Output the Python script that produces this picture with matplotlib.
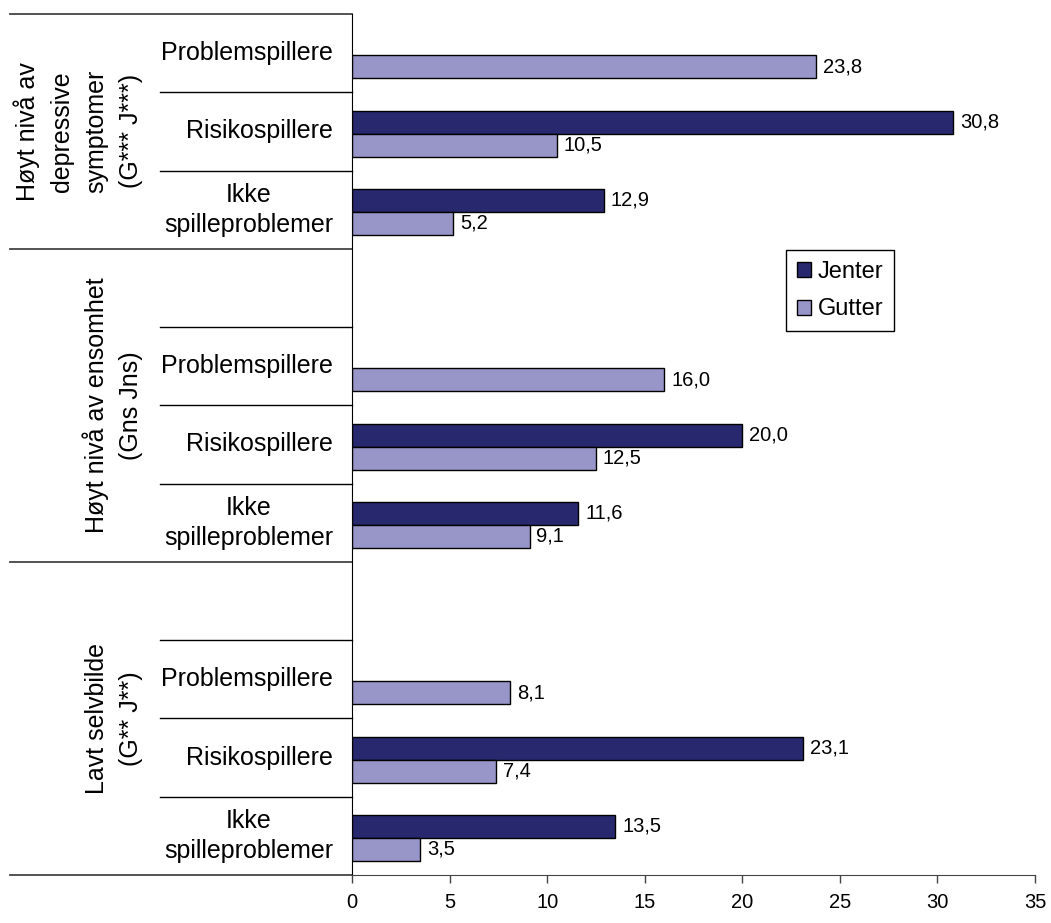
#!/usr/bin/env python3
import matplotlib
matplotlib.use('Agg')
import matplotlib.pyplot as plt
import numpy as np

plt.rcParams['font.family'] = ['Liberation Sans', 'DejaVu Sans']

# slots from top to bottom (None = blank row)
sub_labels = ['Problemspillere', 'Risikospillere', 'Ikke\nspilleproblemer',
              None, 'Problemspillere', 'Risikospillere', 'Ikke\nspilleproblemer',
              None, 'Problemspillere', 'Risikospillere', 'Ikke\nspilleproblemer']
jenter = [None, 30.8, 12.9,
          None, None, 20.0, 11.6,
          None, None, 23.1, 13.5]
gutter = [23.8, 10.5, 5.2,
          None, 16.0, 12.5, 9.1,
          None, 8.1, 7.4, 3.5]
group_labels = ['Høyt nivå av\ndepressive\nsymptomer\n(G*** J***)',
                'Høyt nivå av ensomhet\n(Gns Jns)',
                'Lavt selvbilde\n(G** J**)']
group_bounds = [-0.5, 2.5, 6.5, 10.5]

c_jenter = '#28286E'
c_gutter = '#9896C8'


def fmt(v):
    return f'{v:.1f}'.replace('.', ',')


def main():
    fig = plt.figure(figsize=(10.51, 9.23), dpi=100)
    ax = fig.add_axes([352 / 1051, 1 - 875 / 923, 683 / 1051, 861 / 923])

    h = 0.294
    pos = np.arange(len(sub_labels))
    jy = [p - 0.12 for p, v in zip(pos, jenter) if v is not None]
    jv = [v for v in jenter if v is not None]
    gy = [p + 0.174 for p, v in zip(pos, gutter) if v is not None]
    gv = [v for v in gutter if v is not None]

    ax.barh(jy, jv, height=h, color=c_jenter, edgecolor='black', lw=1.0, label='Jenter')
    ax.barh(gy, gv, height=h, color=c_gutter, edgecolor='black', lw=1.0, label='Gutter')

    for y, v in zip(jy, jv):
        ax.text(v + 0.35, y, fmt(v), va='center', ha='left', fontsize=14.5)
    for y, v in zip(gy, gv):
        ax.text(v + 0.35, y, fmt(v), va='center', ha='left', fontsize=14.5)

    ax.set_xlim(0, 35)
    ax.set_ylim(10.5, -0.5)
    ax.set_xticks(range(0, 36, 5))
    ax.tick_params(axis='x', labelsize=14.5, length=6, width=1, pad=7, color='#444444')
    ax.set_yticks([])
    ax.spines['top'].set_visible(False)
    ax.spines['right'].set_visible(False)
    ax.spines['left'].set_color('black')
    ax.spines['bottom'].set_color('#444444')

    tr = ax.get_yaxis_transform()
    x_outer = (10 - 352) / 683
    x_inner = (160 - 352) / 683
    x_text = (333 - 352) / 683
    x_group = (143 - 352) / 683

    # category labels and separators
    for i, lab in enumerate(sub_labels):
        if lab is not None:
            ax.text(x_text, i, lab, transform=tr, ha='right', va='center',
                    multialignment='center', fontsize=18, linespacing=1.3)
    for g in range(3):
        top, bot = group_bounds[g], group_bounds[g + 1]
        ax.text(x_group, (top + bot) / 2, group_labels[g], transform=tr,
                rotation=90, ha='right', va='center', multialignment='center',
                fontsize=18, linespacing=1.55)
        for b in np.arange(top + 1, bot, 1.0):
            ax.plot([x_inner, 0], [b, b], transform=tr, color='black',
                    lw=1.0, clip_on=False)
    for b in group_bounds:
        ax.plot([x_outer, 0], [b, b], transform=tr, color='#444444',
                lw=1.3, clip_on=False)

    fig.legend(loc='upper left', bbox_to_anchor=(786 / 1051, 1 - 250 / 923),
               borderaxespad=0, fontsize=17, frameon=True, fancybox=False,
               edgecolor='black', framealpha=1, handlelength=0.6,
               handleheight=0.6, handletextpad=0.3, labelspacing=0.67,
               borderpad=0.45)

    fig.savefig('out.png', dpi=100)


if __name__ == '__main__':
    main()
